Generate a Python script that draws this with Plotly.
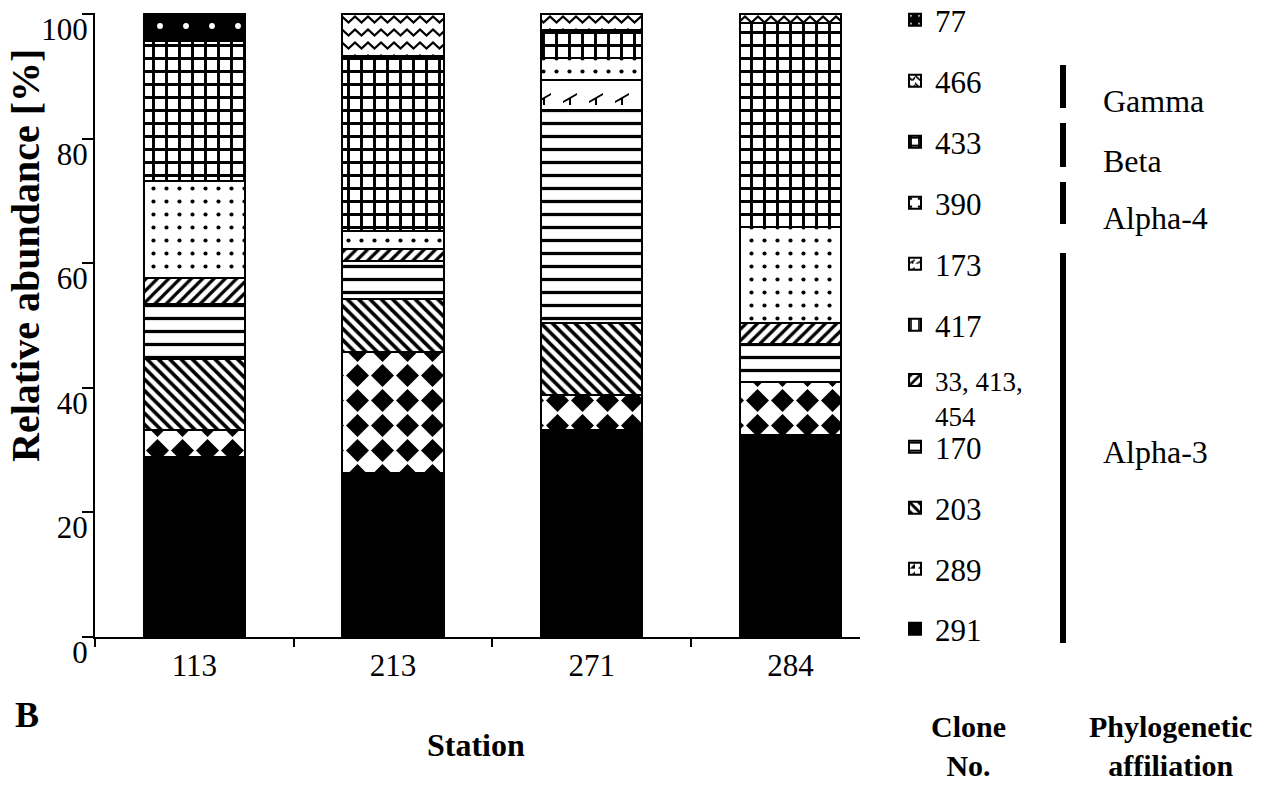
import plotly.graph_objects as go

# ---------------- data ----------------
stations = ["113", "213", "271", "284"]
clone_labels = ["291", "289", "203", "170", "33, 413,<br>454", "417", "173", "390", "433", "466", "77"]
v291 = [28.9, 26.3, 33.2, 32.4]
v289 = [4.3, 19.4, 5.6, 8.5]
v203 = [11.5, 8.6, 11.7, 0]
v170 = [8.8, 6.1, 34.2, 6.2]
v33_413_454 = [4.2, 1.9, 0, 3.4]
v417 = [0, 0, 0, 0]
v173 = [0, 0, 4.8, 0]
v390 = [15.5, 2.9, 3.5, 15.4]
v433 = [22.5, 28.1, 4.5, 32.7]
v466 = [0, 6.7, 2.5, 1.4]
v77 = [4.3, 0, 0, 0]
series = [v291, v289, v203, v170, v33_413_454, v417, v173, v390, v433, v466, v77]
y_ticks = [0, 20, 40, 60, 80, 100]

groups = ["Gamma", "Beta", "Alpha-4", "Alpha-3"]

# ---------------- layout geometry ----------------
W, H = 1281, 787
L, R, T, B = 95, 421, 13, 150
PW, PH = W - L - R, H - T - B
FONT = "Liberation Serif"


def px_x(p):
    return (p - L) / PW


def px_y(p):
    return (H - B - p) / PH


def cy(p):  # container y
    return 1 - p / H


def cx(p):
    return p / W


# pattern definitions
wave = ("M0,2 L6.5,8 L13,2 L19.5,8 L26,2 L26,5 L19.5,11 L13,5 L6.5,11 L0,5 Z "
        "M0,15 L6.5,21 L13,15 L19.5,21 L26,15 L26,18 L19.5,24 L13,18 L6.5,24 L0,18 Z")
diamond = "M12.5,1 L24,12.5 L12.5,24 L1,12.5 Z"
tickmark = "M0,10 L14,2 L14,4 L8,7.5 L8,14 L6,14 L6,8.7 L0,12 Z"

has_path = "path" in go.bar.marker.Pattern()._valid_props

patterns = [
    None,  # 291 solid black
    dict(path=diamond, size=25, solidity=0.5) if has_path else dict(shape=".", size=24, solidity=0.45),
    dict(shape="\\", size=8, solidity=0.45),
    dict(shape="-", size=13, solidity=0.25),
    dict(shape="/", size=8, solidity=0.4),
    dict(shape="|", size=10, solidity=0.2),
    dict(path=tickmark, size=26, solidity=0.5) if has_path else dict(shape="x", size=20, solidity=0.1),
    dict(shape=".", size=13, solidity=0.08),
    dict(shape="+", size=13, solidity=0.4),
    dict(path=wave, size=26, solidity=0.5) if has_path else dict(shape="x", size=14, solidity=0.2),
    dict(shape=".", size=26, solidity=0.04),
]

legend_y = [629, 569, 508, 447, 398, 325, 264, 203, 142, 81, 20]

fig = go.Figure()
for i, (lab, vals, pat) in enumerate(zip(clone_labels, series, patterns)):
    marker = dict(line=dict(color="black", width=2))
    if pat is None:
        marker["color"] = "black"
    else:
        p = dict(pat)
        if i == len(series) - 1:  # 77: black with white dots
            p.update(fgcolor="white", bgcolor="black")
        else:
            p.update(fgcolor="black", bgcolor="white")
        p["fillmode"] = "replace"
        marker["color"] = "white"
        marker["pattern"] = p
    lname = "legend" if i == 0 else f"legend{i + 1}"
    fig.add_trace(go.Bar(x=stations, y=vals, name=lab, marker=marker,
                         legend=lname, showlegend=True, hoverinfo="skip"))

layout_legends = {}
for i, py in enumerate(legend_y):
    lname = "legend" if i == 0 else f"legend{i + 1}"
    two = (i == 4)
    layout_legends[lname] = dict(
        xref="container", yref="container",
        x=cx(895), y=cy(py), xanchor="left",
        yanchor="middle",
        valign="top" if two else "middle",
        font=dict(family=FONT, size=27 if two else 31, color="black"),
        bgcolor="rgba(0,0,0,0)", borderwidth=0, itemwidth=30,
    )

fig.update_layout(
    width=W, height=H,
    margin=dict(l=L, r=R, t=T, b=B, pad=0, autoexpand=False),
    paper_bgcolor="white", plot_bgcolor="white",
    barmode="stack", bargap=0.49,
    font=dict(family=FONT, size=31, color="black"),
    **layout_legends,
)

fig.update_xaxes(
    type="category", range=[-0.5, 3.35], showline=True, linecolor="black", linewidth=2,
    ticks="outside", tickson="boundaries", ticklen=8, tickwidth=2, tickcolor="black",
    showgrid=False, zeroline=False, tickfont=dict(family=FONT, size=31),
)
fig.update_yaxes(
    range=[0, 100.2], tickvals=y_ticks, showline=True, linecolor="black", linewidth=2,
    ticks="outside", ticklen=11, tickwidth=2, tickcolor="black",
    showgrid=False, zeroline=False, tickfont=dict(family=FONT, size=31),
    ticklabelstandoff=-12, ticklabelshift=15, ticklabeloverflow="allow",
)

ann = []
ann.append(dict(text="<b>Relative abundance [%]</b>", textangle=-90, xref="paper", yref="paper",
                x=px_x(26), y=px_y(256), xanchor="center", yanchor="middle", showarrow=False,
                font=dict(family=FONT, size=40)))
ann.append(dict(text="<b>B</b>", xref="paper", yref="paper", x=px_x(27), y=px_y(715),
                xanchor="center", yanchor="middle", showarrow=False, font=dict(family=FONT, size=36)))
ann.append(dict(text="<b>Station</b>", xref="paper", yref="paper", x=px_x(476), y=px_y(745),
                xanchor="center", yanchor="middle", showarrow=False, font=dict(family=FONT, size=32)))
ann.append(dict(text="<b>Clone</b><br><b>No.</b>", xref="paper", yref="paper", x=px_x(968), y=px_y(746),
                xanchor="center", yanchor="middle", showarrow=False, font=dict(family=FONT, size=30)))
ann.append(dict(text="<b>Phylogenetic</b><br><b>affiliation</b>", xref="paper", yref="paper",
                x=px_x(1170), y=px_y(746), xanchor="center", yanchor="middle", showarrow=False,
                font=dict(family=FONT, size=30)))

group_text_y = [101, 161, 218, 452]
group_line = [(65, 108), (123, 167), (182, 224), (253, 643)]
shapes = []
for g, ty, (y0, y1) in zip(groups, group_text_y, group_line):
    ann.append(dict(text=g, xref="paper", yref="paper", x=px_x(1101), y=px_y(ty), xanchor="left",
                    yanchor="middle", showarrow=False, font=dict(family=FONT, size=32)))
    shapes.append(dict(type="line", xref="paper", yref="paper", x0=px_x(1063), x1=px_x(1063),
                       y0=px_y(y0), y1=px_y(y1), line=dict(color="black", width=6)))

fig.update_layout(annotations=ann, shapes=shapes)

fig.write_html("out.html", config={"displayModeBar": False},
               post_script="document.body.style.margin='0px';")
